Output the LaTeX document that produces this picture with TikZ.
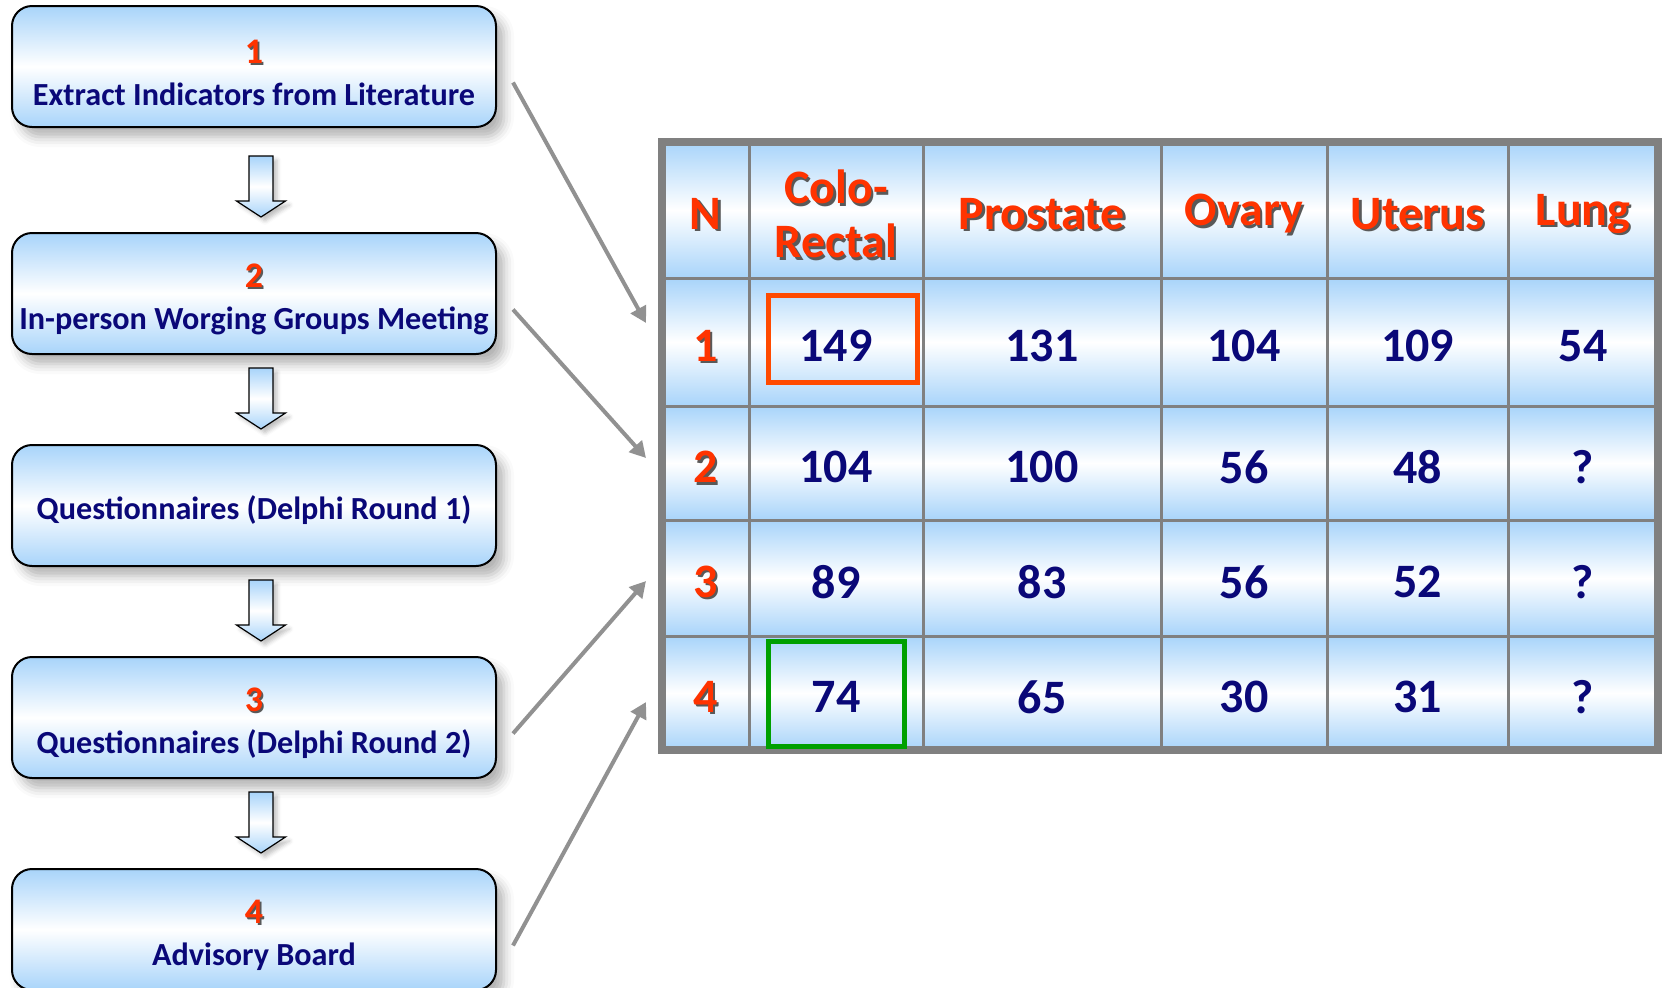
\documentclass[tikz,border=0pt]{standalone}
\usepackage{fontspec}
\setmainfont{Carlito}
\usepackage{tikz}
\usetikzlibrary{arrows.meta,positioning,calc,shadows.blur}
\definecolor{skyb}{RGB}{168,212,250}
\definecolor{navytxt}{RGB}{10,8,120}
\definecolor{numred}{RGB}{255,51,0}
\definecolor{gridgray}{RGB}{128,128,128}
\definecolor{linkgray}{RGB}{145,145,145}
\definecolor{hlorange}{RGB}{255,74,0}
\definecolor{hlgreen}{RGB}{0,160,0}
% red text with a dark drop shadow
\newcommand{\shtxt}[2][1.2pt]{\makebox[0pt][l]{\hspace{#1}\raisebox{-#1}{\textcolor{black!65}{#2}}}\textcolor{numred}{#2}}
% stage number, a bit larger, pushed down a little
\newcommand{\stnum}[1]{\rule{0pt}{18pt}{\fontsize{18}{21}\selectfont\shtxt[0.9pt]{#1}}}
\tikzset{
  stage/.style={draw=black, line width=1pt, rounded corners=10pt, top color=skyb, bottom color=skyb, middle color=white,
    minimum width=242pt, minimum height=60.5pt, align=center, text=navytxt, font=\fontsize{16.1}{21}\selectfont\bfseries,
    blur shadow={shadow xshift=4pt, shadow yshift=-5pt, shadow blur radius=5pt, shadow opacity=30}},
  downarr/.style={draw=black, line width=0.6pt, top color=skyb, bottom color=skyb, middle color=white,
    blur shadow={shadow xshift=2pt, shadow yshift=-2pt, shadow blur radius=2pt, shadow opacity=25}},
  cell/.style={draw=gridgray, line width=1.5pt, top color=skyb, bottom color=skyb, middle color=white, inner sep=0pt, outer sep=0pt},
  hd/.style={font=\fontsize{24}{27}\selectfont\bfseries, align=center, yshift=-2.6pt},
  val/.style={text=navytxt, font=\fontsize{24}{27}\selectfont\bfseries, align=center, yshift=-2pt},
  hilite/.style={line width=2.5pt, inner sep=0pt},
  link/.style={draw=linkgray, line width=2pt, -{Triangle[length=8pt,width=8.5pt]}}
}
\begin{document}
\begin{tikzpicture}[x=0.5pt, y=-0.5pt, node distance=44.5pt]
  \useasboundingbox (0,0) rectangle (1662,987);
  % stages on the left
  \node[stage] (b1) at (254,66.5) {\stnum{1}\\Extract Indicators from Literature};
  \node[stage, below=52pt of b1] (b2) {\stnum{2}\\In-person Worging Groups Meeting};
  \node[stage, below=of b2] (b3) {\rule{0pt}{17pt}Questionnaires (Delphi Round 1)};
  \node[stage, below=of b3] (b4) {\stnum{3}\\Questionnaires (Delphi Round 2)};
  \node[stage, below=of b4] (b5) {\stnum{4}\\Advisory Board};
  \foreach \b in {b2,b3,b4,b5}
    \draw[downarr] ($(\b.north)+(-5,-76)$) -- ++(24,0) -- ++(0,45) -- ++(12.5,0) -- ++(-24.5,16)
      -- ++(-24.5,-16) -- ++(12.5,0) -- cycle;
  % table
  \foreach \xa/\xb/\c in {662/749/0,749/923/1,923/1161/2,1161/1327/3,1327/1508/4,1508/1658/5}
    \foreach \ya/\yb/\r in {142/278/0,278/406/1,406/520/2,520/636/3,636/750/4}
      \node[cell, minimum width={(\xb-\xa)*0.5pt}, minimum height={(\yb-\ya)*0.5pt}] (c-\r-\c) at ({(\xa+\xb)/2},{(\ya+\yb)/2}) {};
  \draw[gridgray, line width=4pt] (c-0-0.north west) rectangle (c-4-5.south east);
  \foreach \t [count=\c from 0] in {\shtxt{N},{\shtxt{Colo-}\\\shtxt{Rectal}},\shtxt{Prostate},\shtxt{Ovary},\shtxt{Uterus},\shtxt{Lung}}
    \node[hd] (h-\c) at (c-0-\c) {\t};
  \foreach \r in {1,...,4}
    \node[hd] (n-\r) at (c-\r-0) {\shtxt{\r}};
  \foreach \r/\vals in {1/{149,131,104,109,54},2/{104,100,56,48,?},3/{89,83,56,52,?},4/{74,65,30,31,?}}
    \foreach \v [count=\c] in \vals
      \node[val] (v-\r-\c) at (c-\r-\c) {\v};
  \node[hilite, draw=hlorange, minimum width=74.5pt, minimum height=43.5pt] (hl-a) at (843,339) {};
  \node[hilite, draw=hlgreen, minimum width=68pt, minimum height=52.5pt] (hl-b) at (836.5,694) {};
  % links from stages to rows
  \coordinate (t1) at (646,323);
  \coordinate (t2) at (646,458);
  \coordinate (t3) at (646,581);
  \coordinate (t4) at (646,702);
  \draw[link] ($(b1.east)+(16,16)$) -- (t1);
  \draw[link] ($(b2.east)+(16,16)$) -- (t2);
  \draw[link] ($(b4.east)+(16,16)$) -- (t3);
  \draw[link] ($(b5.east)+(16,16)$) -- (t4);
\end{tikzpicture}
\end{document}
